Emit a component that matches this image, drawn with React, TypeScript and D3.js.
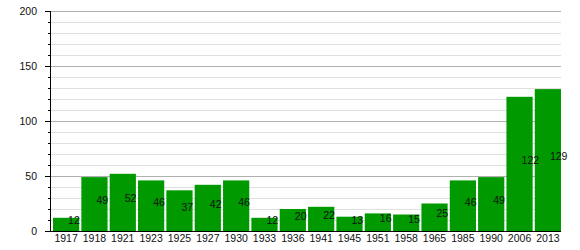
import React from "react";
import * as d3 from "d3";

const years = ["1917","1918","1921","1923","1925","1927","1930","1933","1936","1941","1945","1951","1958","1965","1985","1990","2006","2013"];
const values = [12,49,52,46,37,42,46,12,20,22,13,16,15,25,46,49,122,129];
const yTicks = [0,50,100,150,200];

const W = 580, H = 250;
const L = 50, R = 561, T = 11, B = 231;

export default function App() {
  const x = d3.scaleBand<string>().domain(years).range([53, R]).paddingInner(0.075).paddingOuter(0);
  const y = d3.scaleLinear().domain([0, 200]).range([B, T]);
  const minor = d3.range(0, 201, 10);
  const font = "'Liberation Sans', Arial, Helvetica, sans-serif";
  return (
    <svg width={W} height={H} style={{ position: "absolute", left: 0, top: 0 }} fontFamily={font}>
      <rect width={W} height={H} fill="#fff" />
      {minor.map((v) => (
        <line key={"g" + v} x1={L} x2={R} y1={y(v) + 0.5} y2={y(v) + 0.5}
          stroke={v % 50 === 0 ? "#b0b0b0" : "#e0e0e0"} strokeWidth={1} />
      ))}
      {years.map((yr, i) => (
        <rect key={yr} x={x(yr)} y={y(values[i])} width={x.bandwidth()} height={B - y(values[i])} fill="#009900" />
      ))}
      {years.map((yr, i) => (
        <text key={"l" + yr} x={(x(yr) as number) + x.bandwidth() / 2 + 2} y={(y(values[i]) + B) / 2}
          fontSize={10.5} fill="#111">{values[i]}</text>
      ))}
      <line x1={L + 0.5} x2={L + 0.5} y1={T} y2={B} stroke="#000" />
      <line x1={L} x2={R} y1={B + 0.5} y2={B + 0.5} stroke="#000" />
      {minor.map((v) => (
        <line key={"t" + v} x1={v % 50 === 0 ? L - 5 : L - 2} x2={L} y1={y(v) + 0.5} y2={y(v) + 0.5} stroke="#000" />
      ))}
      {yTicks.map((v) => (
        <text key={"y" + v} x={37} y={y(v) + 4} textAnchor="end" fontSize={10.5} fill="#111">{v}</text>
      ))}
      {years.map((yr) => (
        <text key={"x" + yr} x={(x(yr) as number) + x.bandwidth() / 2} y={242} textAnchor="middle" fontSize={10.5} fill="#111">{yr}</text>
      ))}
    </svg>
  );
}
